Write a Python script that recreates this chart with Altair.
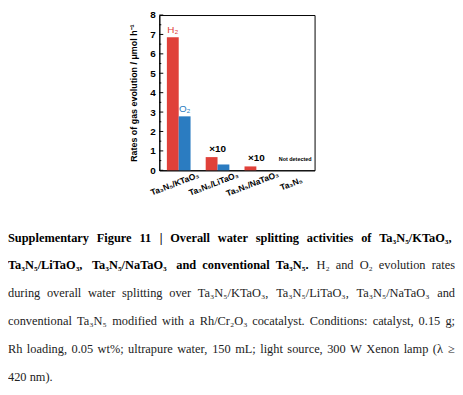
import altair as alt
import pandas as pd

# ---------------- data ----------------
categories = ["Ta₃N₅/KTaO₃", "Ta₃N₅/LiTaO₃", "Ta₃N₅/NaTaO₃", "Ta₃N₅"]
gases = ["H₂", "O₂"]
h2_rates = [6.85, 0.68, 0.20, 0.0]
o2_rates = [2.78, 0.30, 0.0, 0.0]
gas_colors = ["#e0413a", "#2b7cc1"]

y_ticks = [0, 1, 2, 3, 4, 5, 6, 7, 8]
y_minor = [0.5, 1.5, 2.5, 3.5, 4.5, 5.5, 6.5, 7.5]

gas_labels = ["H₂", "O₂"]
gas_label_cat = ["Ta₃N₅/KTaO₃", "Ta₃N₅/KTaO₃"]
gas_label_val = [6.85, 2.78]
note_texts = ["×10", "×10", "Not detected"]
note_cats = ["Ta₃N₅/LiTaO₃", "Ta₃N₅/NaTaO₃", "Ta₃N₅"]
note_vals = [0.68, 0.20, 0.0]

caption_lines = [
    [("Supplementary Figure 11 | Overall water splitting activities of Ta₃N₅/KTaO₃,", True)],
    [("Ta₃N₅/LiTaO₃, Ta₃N₅/NaTaO₃ and conventional Ta₃N₅.", True),
     ("H₂ and O₂ evolution rates", False)],
    [("during overall water splitting over Ta₃N₅/KTaO₃, Ta₃N₅/LiTaO₃, Ta₃N₅/NaTaO₃ and", False)],
    [("conventional Ta₃N₅ modified with a Rh/Cr₂O₃ cocatalyst. Conditions: catalyst, 0.15 g;", False)],
    [("Rh loading, 0.05 wt%; ultrapure water, 150 mL; light source, 300 W Xenon lamp (λ ≥", False)],
    [("420 nm).", False)],
]

# ---------------- layout ----------------
W, H = 157, 157
PAD_L, PAD_T = 153, 5
TOTAL_W, TOTAL_H = 452, 378
CAP_LEFT = -153
CAP_RIGHT = 299
CAP_BASE0 = 229
CAP_STEP = 28.3
CAP_FS = 12.5
SERIF = "Liberation Serif"
SANS = "Liberation Sans"

# Times metrics (per 1000 em)
REG = {' ': 250, ',': 250, '.': 250, '/': 278, ':': 278, ';': 278, '%': 833, '(': 333, ')': 333,
       '|': 200, 'λ': 550, '≥': 549,
       'A': 722, 'B': 667, 'C': 667, 'D': 722, 'E': 611, 'F': 556, 'G': 722, 'H': 722, 'I': 333,
       'J': 389, 'K': 722, 'L': 611, 'M': 889, 'N': 722, 'O': 722, 'P': 556, 'Q': 722, 'R': 667,
       'S': 556, 'T': 611, 'U': 722, 'V': 722, 'W': 944, 'X': 722, 'Y': 722, 'Z': 611,
       'a': 444, 'b': 500, 'c': 444, 'd': 500, 'e': 444, 'f': 333, 'g': 500, 'h': 500, 'i': 278,
       'j': 278, 'k': 500, 'l': 278, 'm': 778, 'n': 500, 'o': 500, 'p': 500, 'q': 500, 'r': 333,
       's': 389, 't': 278, 'u': 500, 'v': 500, 'w': 722, 'x': 500, 'y': 500, 'z': 444}
BOLD = dict(REG)
BOLD.update({'|': 220, ':': 333, 'B': 667, 'C': 722, 'E': 667, 'F': 611, 'G': 778, 'H': 778,
             'I': 389, 'K': 778, 'L': 667, 'M': 944, 'O': 778, 'P': 611, 'R': 722, 'T': 667,
             'W': 1000, 'a': 500, 'b': 556, 'd': 556, 'h': 556, 'j': 333, 'k': 556, 'm': 833,
             'n': 556, 'p': 556, 'q': 556, 'r': 444, 't': 333, 'u': 556})


def text_width(s, bold):
    table = BOLD if bold else REG
    w = 0
    for ch in s:
        if ch in "₀₁₂₃₄₅₆₇₈₉":
            w += 330
        elif ch.isdigit():
            w += 500
        else:
            w += table.get(ch, 500)
    return w / 1000 * CAP_FS


rows = []
for li, segs in enumerate(caption_lines):
    words = []
    for txt, b in segs:
        for wd in txt.split(" "):
            words.append((wd, b))
    widths = [text_width(w, b) for w, b in words]
    justify = li < len(caption_lines) - 1
    if justify and len(words) > 1:
        gap = (CAP_RIGHT - CAP_LEFT - sum(widths)) / (len(words) - 1)
    else:
        gap = 0.25 * CAP_FS
    x = CAP_LEFT
    for (w, b), wd in zip(words, widths):
        rows.append({"word": w, "bold": b, "px": x, "py": CAP_BASE0 + li * CAP_STEP})
        x += wd + gap
cap_df = pd.DataFrame(rows)

# ---------------- tables ----------------
bars_df = pd.DataFrame({
    "cat": categories * 2,
    "gas": [gases[0]] * 4 + [gases[1]] * 4,
    "rate": h2_rates + o2_rates,
})
gas_lab_df = pd.DataFrame({"cat": gas_label_cat, "gas": gas_labels, "rate": gas_label_val})
note_df = pd.DataFrame({"cat": note_cats, "txt": note_texts, "rate": note_vals})
tick_df = pd.DataFrame({"v": y_ticks})
minor_df = pd.DataFrame({"v": y_minor})


def xs():
    return alt.Scale(domain=categories, paddingInner=0.39, paddingOuter=0.195)


def ys():
    return alt.Scale(domain=[0, 8], nice=False, zero=True)


def os_():
    return alt.Scale(domain=gases)


cscale = alt.Scale(domain=gases, range=gas_colors)

bars = alt.Chart(bars_df).mark_bar().encode(
    x=alt.X("cat:N", scale=xs(), sort=categories, title=None,
            axis=alt.Axis(labelAngle=-21, labelAlign="center", labelBaseline="middle",
                          labelPadding=13, labelOffset=-4, ticks=False, domainColor="black",
                          labelFont=SANS, labelFontWeight="bold", labelFontSize=8.5,
                          labelColor="black", labelOverlap=False)),
    xOffset=alt.XOffset("gas:N", sort=gases, scale=os_()),
    y=alt.Y("rate:Q", scale=ys(), title="Rates of gas evolution / μmol h⁻¹",
            axis=alt.Axis(values=y_ticks, ticks=False, labelPadding=4,
                          domainColor="black",
                          labelFont=SANS, labelFontWeight="bold", labelFontSize=10,
                          labelColor="black", labelOverlap=False, labelFlush=False,
                          titleFont=SANS, titleFontWeight="bold",
                          titleFontSize=9, titleColor="black", titlePadding=12, grid=False)),
    color=alt.Color("gas:N", scale=cscale, legend=None),
)

gas_text = alt.Chart(gas_lab_df).mark_text(
    font=SANS, fontSize=10, dy=-4, baseline="alphabetic"
).encode(
    x=alt.X("cat:N", scale=xs(), sort=categories, axis=None),
    xOffset=alt.XOffset("gas:N", sort=gases, scale=os_()),
    y=alt.Y("rate:Q", scale=ys(), axis=None),
    text="gas:N",
    color=alt.Color("gas:N", scale=cscale, legend=None),
)

note_big = alt.Chart(note_df[note_df["txt"] == "×10"]).mark_text(
    font=SANS, fontSize=10, fontWeight="bold", dy=-5, baseline="alphabetic", color="black"
).encode(
    x=alt.X("cat:N", scale=xs(), sort=categories, axis=None),
    y=alt.Y("rate:Q", scale=ys(), axis=None),
    text="txt:N",
)
note_small = alt.Chart(note_df[note_df["txt"] != "×10"]).mark_text(
    font=SANS, fontSize=5.5, fontWeight="bold", dy=-9, baseline="alphabetic", color="black"
).encode(
    x=alt.X("cat:N", scale=xs(), sort=categories, axis=None),
    y=alt.Y("rate:Q", scale=ys(), axis=None),
    text="txt:N",
)

major_ticks = alt.Chart(tick_df).mark_rule(color="black", strokeWidth=1).encode(
    y=alt.Y("v:Q", scale=ys(), axis=None), x=alt.value(0), x2=alt.value(4)
)
minor_ticks = alt.Chart(minor_df).mark_rule(color="black", strokeWidth=1).encode(
    y=alt.Y("v:Q", scale=ys(), axis=None), x=alt.value(0), x2=alt.value(2)
)

cap_bold = alt.Chart(cap_df[cap_df["bold"]]).mark_text(
    font=SERIF, fontSize=CAP_FS, fontWeight="bold", align="left", baseline="alphabetic",
    color="black"
).encode(
    x=alt.X("px:Q", scale=None, axis=None), y=alt.Y("py:Q", scale=None, axis=None),
    text="word:N"
)
cap_reg = alt.Chart(cap_df[~cap_df["bold"]]).mark_text(
    font=SERIF, fontSize=CAP_FS, fontWeight="normal", align="left", baseline="alphabetic",
    color="#222222"
).encode(
    x=alt.X("px:Q", scale=None, axis=None), y=alt.Y("py:Q", scale=None, axis=None),
    text="word:N"
)

chart = alt.layer(
    bars, gas_text, note_big, note_small, major_ticks, minor_ticks, cap_bold, cap_reg
).resolve_scale(
    x="independent", y="independent", xOffset="independent"
).properties(
    width=W, height=H,
    autosize=alt.AutoSizeParams(type="none"),
    padding={"left": PAD_L, "top": PAD_T, "right": TOTAL_W - PAD_L - W,
             "bottom": TOTAL_H - PAD_T - H},
    background="white",
).configure_view(
    stroke="black", strokeWidth=1
)

chart.save("out.html", embed_options={"renderer": "svg", "actions": False})
